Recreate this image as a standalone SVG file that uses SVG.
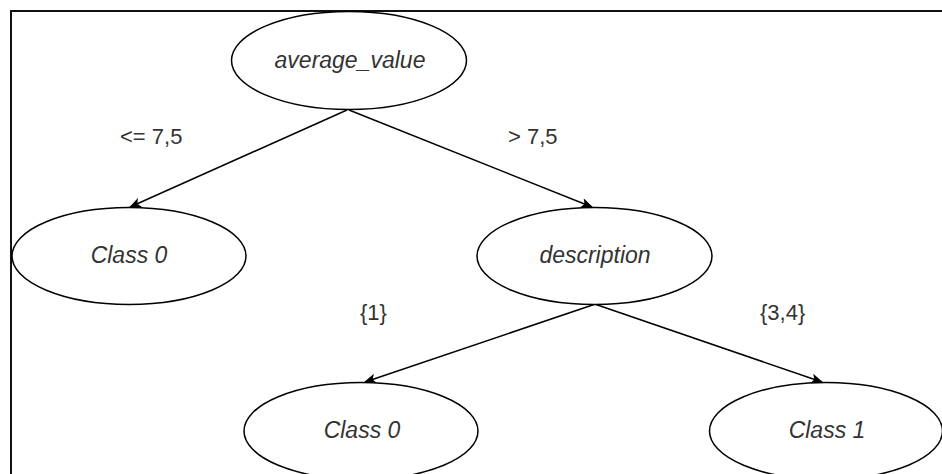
<svg xmlns="http://www.w3.org/2000/svg" width="942" height="474" viewBox="0 0 942 474">
  <style>
    .node { fill: #ffffff; stroke: #000000; stroke-width: 1.5; }
    .label { font-family: "Liberation Sans", Arial, sans-serif; font-size: 23px; font-style: italic; fill: #333333; text-anchor: middle; }
    .edge-label { font-family: "Liberation Sans", Arial, sans-serif; font-size: 22px; fill: #333333; }
    .edge { fill: none; stroke: #000000; stroke-width: 1.5; marker-end: url(#arrow); }
  </style>
  <defs>
    <marker id="arrow" viewBox="0 0 12 10" refX="11" refY="5" markerWidth="12" markerHeight="10" markerUnits="userSpaceOnUse" orient="auto">
      <path d="M0,0 L12,5 L0,10 L3,5 Z" fill="#000000"/>
    </marker>
  </defs>

  <rect x="0" y="0" width="942" height="474" fill="#ffffff"/>
  <!-- frame -->
  <path d="M11,476 L11,11 L944,11" fill="none" stroke="#111111" stroke-width="2"/>

  <g id="connectors">
    <line class="edge" x1="347" y1="110" x2="130" y2="207"/>
    <line class="edge" x1="349" y1="110" x2="592" y2="207"/>
    <line class="edge" x1="594" y1="304.5" x2="365" y2="382"/>
    <line class="edge" x1="596" y1="304.5" x2="822" y2="382"/>
    <text class="edge-label" x="120" y="144">&lt;= 7,5</text>
    <text class="edge-label" x="508" y="144">&gt; 7,5</text>
    <text class="edge-label" x="360" y="320">{1}</text>
    <text class="edge-label" x="760" y="320">{3,4}</text>
  </g>

  <g id="node-average-value">
    <ellipse class="node" cx="349" cy="60.5" rx="117.5" ry="49"/>
    <text class="label" x="350" y="68">average_value</text>
  </g>
  <g id="node-class0-left">
    <ellipse class="node" cx="129" cy="256" rx="117" ry="48.5"/>
    <text class="label" x="129" y="263">Class 0</text>
  </g>
  <g id="node-description">
    <ellipse class="node" cx="594.5" cy="256" rx="117.5" ry="48.5"/>
    <text class="label" x="595" y="263">description</text>
  </g>
  <g id="node-class0-bottom">
    <ellipse class="node" cx="361" cy="431" rx="117" ry="48.5"/>
    <text class="label" x="362" y="438">Class 0</text>
  </g>
  <g id="node-class1">
    <ellipse class="node" cx="826" cy="431" rx="116.5" ry="48.5"/>
    <text class="label" x="827" y="438">Class 1</text>
  </g>
</svg>
